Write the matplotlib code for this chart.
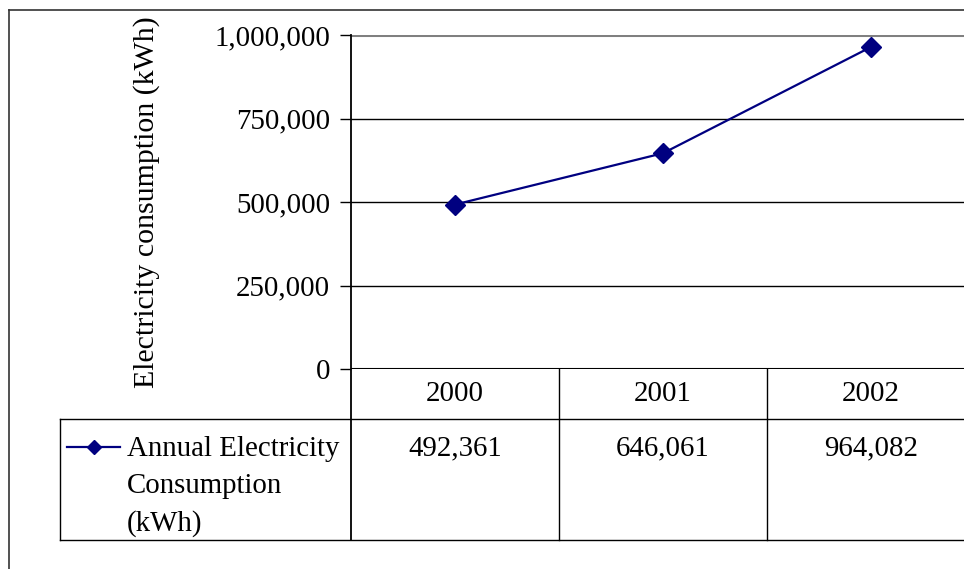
import matplotlib
matplotlib.use("Agg")
import matplotlib.pyplot as plt
from matplotlib.lines import Line2D
import matplotlib.transforms as mtransforms

years = ["2000", "2001", "2002"]
consumption = [492361, 646061, 964082]
series_name = "Annual Electricity\nConsumption\n(kWh)"
y_label = "Electricity consumption (kWh)"
y_ticks = [0, 250000, 500000, 750000, 1000000]

W, H = 964, 569
plt.rcParams['font.family'] = ['Liberation Serif', 'DejaVu Serif']
FS = 20.8
navy = "#000080"

fig = plt.figure(figsize=(W / 100, H / 100), dpi=100)

# plot area in pixels: left 351, top 35, bottom 369, column width 208
left, top, bottom, colw = 351, 35, 369, 208
n = len(years)
ax = fig.add_axes([left / W, 1 - bottom / H, n * colw / W, (bottom - top) / H])
ax.set_xlim(-0.5, n - 0.5)
ax.set_ylim(0, 1000000)
for s in ax.spines.values():
    s.set_visible(False)
ax.set_xticks([])
ax.set_yticks(y_ticks)
ax.set_yticklabels([f"{v:,}" for v in y_ticks], fontsize=FS)
ax.tick_params(axis='y', length=8, width=1, pad=7, color='black')

for v in y_ticks[1:-1]:
    ax.axhline(v, color='black', lw=1)
ax.axhline(y_ticks[-1], color='#808080', lw=2.2)
ax.axhline(0, color='black', lw=1.5)

ax.plot(range(n), consumption, color=navy, lw=1.6, marker='D', markersize=10,
        markerfacecolor=navy, markeredgecolor=navy, clip_on=False, zorder=5)

fig.text(147 / W, 1 - 202 / H, y_label, rotation=90, ha='center', va='center', fontsize=21.5)

# data table (axes-fraction y, data x)
ph = bottom - top
r1 = -(419 - bottom) / ph
r2 = -(540 - bottom) / ph
trans = mtransforms.blended_transform_factory(ax.transData, ax.transAxes)
leg_x = -0.5 - (left - 60) / colw
kw = dict(transform=trans, clip_on=False, color='black', lw=1)
ax.add_line(Line2D([leg_x, n - 0.5], [r1, r1], **kw))
ax.add_line(Line2D([leg_x, n - 0.5], [r2, r2], **kw))
ax.add_line(Line2D([leg_x, leg_x], [r1, r2], **kw))
ax.add_line(Line2D([-0.5, -0.5], [1, r2], transform=trans, clip_on=False, color='black', lw=1.3))
for i in range(1, n + 1):
    ax.add_line(Line2D([i - 0.5, i - 0.5], [0, r2], **kw))

for i, (yr, val) in enumerate(zip(years, consumption)):
    ax.text(i, r1 / 2, yr, transform=trans, ha='center', va='center', fontsize=FS)
    ax.text(i, r1 - 29 / ph, f"{val:,}", transform=trans, ha='center', va='center', fontsize=FS)

# legend key
ky = r1 - 28 / ph
k0 = leg_x + 7 / colw
k1 = leg_x + 60 / colw
ax.add_line(Line2D([k0, k1], [ky, ky], transform=trans, clip_on=False, color=navy, lw=1.6))
ax.add_line(Line2D([(k0 + k1) / 2], [ky], transform=trans, clip_on=False, color=navy,
                   marker='D', markersize=7, markerfacecolor=navy, markeredgecolor=navy))
ax.text(leg_x + 67 / colw, r1 - 17 / ph, series_name, transform=trans, ha='left', va='top',
        fontsize=FS, linespacing=1.55)

# outer chart border
fig.add_artist(Line2D([9 / W, 1], [1 - 10 / H, 1 - 10 / H], transform=fig.transFigure, color='#333333', lw=1.2))
fig.add_artist(Line2D([9 / W, 9 / W], [1 - 10 / H, 0], transform=fig.transFigure, color='#333333', lw=1.2))

fig.savefig("out.png", dpi=100)
